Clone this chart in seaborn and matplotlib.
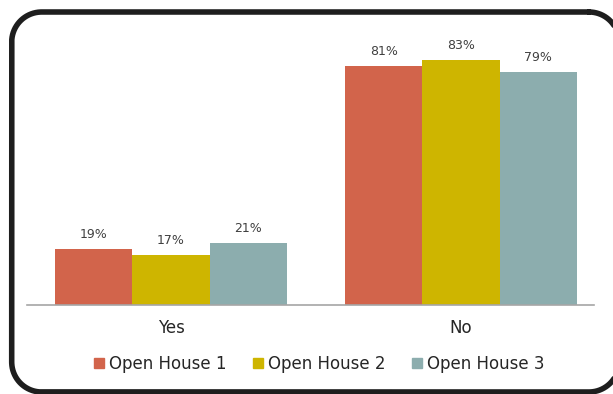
import matplotlib
matplotlib.use("Agg")
import matplotlib.pyplot as plt
import numpy as np
import pandas as pd
import seaborn as sns

# Survey answers per open house (percent of respondents)
answers = ["Yes", "No"]
series = ["Open House 1", "Open House 2", "Open House 3"]
house1 = [19, 81]
house2 = [17, 83]
house3 = [21, 79]
colors = ["#D2644B", "#CEB500", "#8CADAE"]

rows = []
for name, vals in zip(series, [house1, house2, house3]):
    for ans, v in zip(answers, vals):
        rows.append({"answer": ans, "house": name, "pct": v})
df = pd.DataFrame(rows)

sns.set_theme(style="white")
plt.rcParams["font.family"] = ["DejaVu Sans"]

W, H = 613, 394
fig = plt.figure(figsize=(W / 100, H / 100), dpi=100)
ax = fig.add_axes([27 / W, 89 / H, 567 / W, 265.5 / H])

sns.barplot(data=df, x="answer", y="pct", hue="house", order=answers,
            hue_order=series, palette=colors, saturation=1, width=0.8,
            ax=ax, legend=False, linewidth=0)

for cont in ax.containers:
    ax.bar_label(cont, fmt="%g%%", padding=6, fontsize=9, color="#404040")

ax.set_xlim(-0.497, 1.459)
ax.set_ylim(0, 90)
ax.set_xlabel("")
ax.set_ylabel("")
ax.set_yticks([])
ax.tick_params(axis="x", length=0, pad=10, labelsize=12, labelcolor="#262626")
for side in ["top", "right", "left"]:
    ax.spines[side].set_visible(False)
ax.spines["bottom"].set_color("#A6A6A6")
ax.spines["bottom"].set_linewidth(1.2)

handles = [plt.Line2D([], [], marker="s", linestyle="none", markersize=7,
                      markerfacecolor=c, markeredgecolor=c) for c in colors]
fig.legend(handles, series, loc="center", bbox_to_anchor=(319 / W, 30 / H),
           ncol=3, frameon=False, fontsize=12, handlelength=0.6,
           handletextpad=0.3, columnspacing=1.6, labelcolor="#262626")


def rounded_rect(x0, y0, x1, y1, r, n=40):
    """Closed outline of a rounded rectangle as straight segments."""
    pts = []
    corners = [(x1 - r, y0 + r, -np.pi / 2, 0),        # top-right
               (x1 - r, y1 - r, 0, np.pi / 2),         # bottom-right
               (x0 + r, y1 - r, np.pi / 2, np.pi),     # bottom-left
               (x0 + r, y0 + r, np.pi, 1.5 * np.pi)]   # top-left
    for cx, cy, a0, a1 in corners:
        t = np.linspace(a0, a1, n)
        pts.append(np.column_stack([cx + r * np.cos(t), cy + r * np.sin(t)]))
    pts = np.vstack(pts)
    return np.vstack([pts, pts[:1]])


# Rounded frame around the whole chart, drawn on a full-figure overlay in
# pixel units (it runs slightly past the right edge)
overlay = fig.add_axes([0, 0, 1, 1], facecolor="none")
overlay.set_xlim(0, W)
overlay.set_ylim(H, 0)
overlay.axis("off")
outline = rounded_rect(11.7, 12, 619, 392, 30)
overlay.plot(outline[:, 0], outline[:, 1], color="#1E1E1E", linewidth=4,
             solid_joinstyle="round", clip_on=False)

fig.savefig("out.png", dpi=100)
